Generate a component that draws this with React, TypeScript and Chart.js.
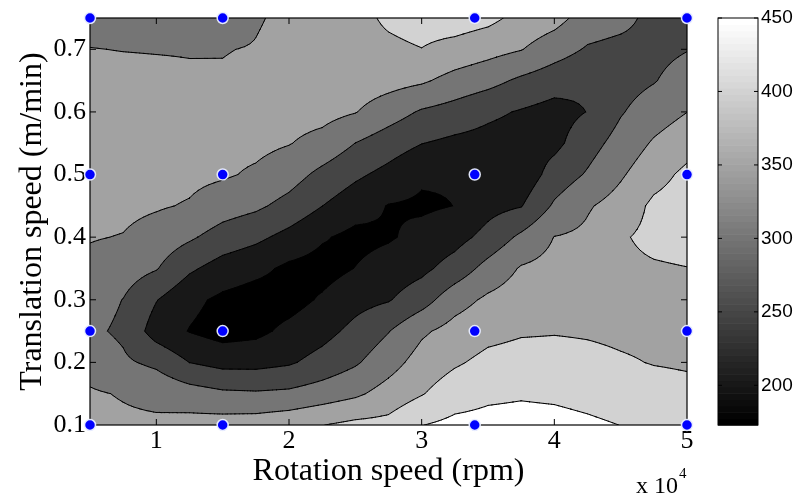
import { useEffect, useRef } from "react";
import { Chart, registerables } from "chart.js";

Chart.register(...registerables);

// Measured points (rotation speed in rpm, translation speed in m/min)
const ROTATION_RPM = [5000, 15000, 34000, 50000];
const TRANSLATION = [0.1, 0.25, 0.5, 0.75];

const GRID_RPM = [
  5000, 7500, 10000, 12500, 15000, 17500, 20000, 22500, 25000, 27500,
  30000, 32500, 35000, 37500, 40000, 42500, 45000, 47500, 50000,
];
const GRID_TRANS = [0.1, 0.15, 0.2, 0.25, 0.3, 0.35, 0.4, 0.45, 0.5, 0.55, 0.6, 0.65, 0.7, 0.75];

// One row per translation speed, one value per grid rpm
const Z_010 = [362, 358, 358, 368, 372, 375, 385, 399, 412, 415, 449, 462, 465, 467, 465, 458, 449.5, 428, 422];
const Z_015 = [355, 347, 338, 322, 309, 306, 310, 324, 341, 370, 397, 427.6, 441, 445, 442, 435.5, 427.5, 418, 412];
const Z_020 = [332, 308, 289, 249.5, 234, 234, 244, 268, 294, 330, 370.5, 393.7, 413, 419, 419, 413, 405, 398, 395];
const Z_025 = [310, 291, 228, 198, 180, 188, 212, 233, 264, 298, 342, 368, 386, 395, 397, 395, 391, 389, 385];
const Z_030 = [322, 299, 252, 212, 190, 178, 182, 206, 233, 246.5, 279, 330, 359, 375, 381.5, 383, 385, 387, 388];
const Z_035 = [337, 323, 303, 258, 229, 213, 190, 182, 201, 221, 238, 271, 317, 354.5, 366, 372, 390, 395, 399];
const Z_040 = [353, 348, 329, 307, 279, 261, 235, 205, 187, 195, 214, 232, 266, 310, 351, 360, 395, 412, 418];
const Z_045 = [366, 362, 355, 346, 323, 309, 284, 250.5, 221, 198, 193, 200.5, 234, 247.5, 307, 345, 370, 410, 423];
const Z_050 = [372, 373, 368, 362, 356, 343, 321, 287, 259, 235.5, 207, 204, 212, 216, 271, 305, 344, 382, 411];
const Z_055 = [372, 375, 372, 367, 362, 362, 352, 334, 299.5, 274, 251, 239, 233, 226, 237, 280, 319, 355.5, 381];
const Z_060 = [368, 370, 368, 364, 361, 364, 368, 366, 352, 323, 294.5, 280, 260, 246, 232, 251, 296, 326, 349.5];
const Z_065 = [362, 362, 360, 356, 355, 362, 370, 373, 376, 368, 357, 333, 316, 291, 272, 258, 280, 297, 324];
const Z_070 = [351, 349, 348, 347.5, 348, 353, 368, 375, 385, 390, 399, 383, 367.5, 352, 322, 295, 285, 285, 298];
const Z_075 = [335, 330, 325, 322, 320, 345, 362, 370, 385, 408, 420, 425, 413, 385, 368, 328, 316, 285, 270];

const Z_GRID = [Z_010, Z_015, Z_020, Z_025, Z_030, Z_035, Z_040, Z_045, Z_050, Z_055, Z_060, Z_065, Z_070, Z_075];

const LEVELS = [200, 250, 300, 350, 400, 450];
const COLOR_MIN = 173;
const COLOR_MAX = 450;

const X_TICKS = [10000, 20000, 30000, 40000, 50000];
const Y_TICKS = [0.1, 0.2, 0.3, 0.4, 0.5, 0.6, 0.7];
const CB_TICKS = [200, 250, 300, 350, 400, 450];

const SERIF = "'Liberation Serif', 'Times New Roman', serif";
const SANS = "'Liberation Sans', Arial, sans-serif";

function grayIndex(v: number) {
  let idx = Math.floor(((v - COLOR_MIN) / (COLOR_MAX - COLOR_MIN)) * 64);
  if (idx < 0) idx = 0;
  if (idx > 63) idx = 63;
  return idx;
}
function grayFromIndex(idx: number) {
  const g = Math.round((idx / 63) * 255);
  return `rgb(${g},${g},${g})`;
}
function grayOf(v: number) {
  return grayFromIndex(grayIndex(v));
}

type P = { x: number; y: number; v: number };

function clipAbove(tri: P[], L: number): P[] {
  const out: P[] = [];
  for (let k = 0; k < tri.length; k++) {
    const a = tri[k];
    const b = tri[(k + 1) % tri.length];
    const ia = a.v >= L;
    const ib = b.v >= L;
    if (ia) out.push(a);
    if (ia !== ib) {
      const t = (L - a.v) / (b.v - a.v);
      out.push({ x: a.x + t * (b.x - a.x), y: a.y + t * (b.y - a.y), v: L });
    }
  }
  return out;
}

function crossings(tri: P[], L: number): P[] {
  const out: P[] = [];
  for (let k = 0; k < 3; k++) {
    const a = tri[k];
    const b = tri[(k + 1) % 3];
    const ia = a.v >= L;
    const ib = b.v >= L;
    if (ia !== ib) {
      const t = (L - a.v) / (b.v - a.v);
      out.push({ x: a.x + t * (b.x - a.x), y: a.y + t * (b.y - a.y), v: L });
    }
  }
  return out;
}

const SUB = 4;

function buildTriangles(xs: any, ys: any): P[][] {
  const tris: P[][] = [];
  for (let j = 0; j < GRID_TRANS.length - 1; j++) {
    for (let i = 0; i < GRID_RPM.length - 1; i++) {
      const x0 = xs.getPixelForValue(GRID_RPM[i]);
      const x1 = xs.getPixelForValue(GRID_RPM[i + 1]);
      const y0 = ys.getPixelForValue(GRID_TRANS[j]);
      const y1 = ys.getPixelForValue(GRID_TRANS[j + 1]);
      const v00 = Z_GRID[j][i];
      const v10 = Z_GRID[j][i + 1];
      const v01 = Z_GRID[j + 1][i];
      const v11 = Z_GRID[j + 1][i + 1];
      const at = (s: number, t: number): P => ({
        x: x0 + s * (x1 - x0),
        y: y0 + t * (y1 - y0),
        v: (1 - s) * (1 - t) * v00 + s * (1 - t) * v10 + s * t * v11 + (1 - s) * t * v01,
      });
      for (let b = 0; b < SUB; b++) {
        for (let a = 0; a < SUB; a++) {
          const s0 = a / SUB;
          const s1 = (a + 1) / SUB;
          const t0 = b / SUB;
          const t1 = (b + 1) / SUB;
          const corners = [at(s0, t0), at(s1, t0), at(s1, t1), at(s0, t1)];
          const c = at((s0 + s1) / 2, (t0 + t1) / 2);
          for (let k = 0; k < 4; k++) tris.push([corners[k], corners[(k + 1) % 4], c]);
        }
      }
    }
  }
  return tris;
}

const contourPlugin = {
  id: "contourFill",
  beforeDatasetsDraw(chart: any) {
    const { ctx, chartArea: a, scales } = chart;
    const xs = scales.x;
    const ys = scales.y;
    const tris = buildTriangles(xs, ys);

    ctx.save();
    ctx.beginPath();
    ctx.rect(a.left, a.top, a.right - a.left, a.bottom - a.top);
    ctx.clip();

    ctx.fillStyle = grayOf(COLOR_MIN);
    ctx.fillRect(a.left, a.top, a.right - a.left, a.bottom - a.top);

    for (const L of LEVELS) {
      ctx.beginPath();
      for (const t of tris) {
        const poly = clipAbove(t, L);
        if (poly.length < 3) continue;
        ctx.moveTo(poly[0].x, poly[0].y);
        for (let k = 1; k < poly.length; k++) ctx.lineTo(poly[k].x, poly[k].y);
        ctx.closePath();
      }
      ctx.fillStyle = grayOf(L);
      ctx.fill();
    }

    ctx.beginPath();
    for (const L of LEVELS) {
      for (const t of tris) {
        const s = crossings(t, L);
        if (s.length === 2) {
          ctx.moveTo(s[0].x, s[0].y);
          ctx.lineTo(s[1].x, s[1].y);
        }
      }
    }
    ctx.strokeStyle = "#000";
    ctx.lineWidth = 1;
    ctx.lineCap = "round";
    ctx.stroke();
    ctx.restore();

    // axes box with inward ticks
    ctx.save();
    ctx.strokeStyle = "#000";
    ctx.lineWidth = 1.2;
    ctx.strokeRect(a.left, a.top, a.right - a.left, a.bottom - a.top);
    ctx.lineWidth = 1;
    ctx.beginPath();
    for (const v of X_TICKS) {
      const px = xs.getPixelForValue(v);
      ctx.moveTo(px, a.bottom);
      ctx.lineTo(px, a.bottom - 6);
      ctx.moveTo(px, a.top);
      ctx.lineTo(px, a.top + 6);
    }
    for (const v of Y_TICKS) {
      const py = ys.getPixelForValue(v);
      ctx.moveTo(a.left, py);
      ctx.lineTo(a.left + 6, py);
      ctx.moveTo(a.right, py);
      ctx.lineTo(a.right - 6, py);
    }
    ctx.stroke();
    ctx.restore();
  },
  afterDraw(chart: any) {
    const { ctx, scales } = chart;
    const cb = scales.cb;
    const left = 718;
    const width = 40;
    ctx.save();
    for (let i = 0; i < 64; i++) {
      const v0 = COLOR_MIN + (i * (COLOR_MAX - COLOR_MIN)) / 64;
      const v1 = COLOR_MIN + ((i + 1) * (COLOR_MAX - COLOR_MIN)) / 64;
      const y0 = cb.getPixelForValue(v1);
      const y1 = cb.getPixelForValue(v0);
      ctx.fillStyle = grayFromIndex(i);
      ctx.fillRect(left, y0, width, y1 - y0 + 0.6);
    }
    const top = cb.getPixelForValue(COLOR_MAX);
    const bottom = cb.getPixelForValue(COLOR_MIN);
    ctx.strokeStyle = "#000";
    ctx.lineWidth = 1;
    ctx.strokeRect(left, top, width, bottom - top);
    ctx.beginPath();
    for (const v of CB_TICKS) {
      const py = cb.getPixelForValue(v);
      ctx.moveTo(left, py);
      ctx.lineTo(left + 4, py);
      ctx.moveTo(left + width, py);
      ctx.lineTo(left + width - 4, py);
    }
    ctx.stroke();

    // exponent label of the x axis
    ctx.fillStyle = "#000";
    ctx.textBaseline = "alphabetic";
    ctx.textAlign = "left";
    ctx.font = `24px ${SERIF}`;
    const base = "x 10";
    ctx.fillText(base, 636, 493);
    const w = ctx.measureText(base).width;
    ctx.font = `15px ${SERIF}`;
    ctx.fillText("4", 636 + w + 1, 478);
    ctx.restore();
  },
};

const noPad = (s: any) => {
  s.paddingTop = 0;
  s.paddingBottom = 0;
  s.paddingLeft = 0;
  s.paddingRight = 0;
};

export default function App() {
  const canvasRef = useRef<HTMLCanvasElement | null>(null);

  useEffect(() => {
    document.body.style.margin = "0";
    const canvas = canvasRef.current;
    if (!canvas) return;

    const points: { x: number; y: number }[] = [];
    for (const t of TRANSLATION) for (const r of ROTATION_RPM) points.push({ x: r, y: t });

    const chart = new Chart(canvas, {
      type: "scatter",
      data: {
        datasets: [
          {
            data: points,
            pointRadius: 5.5,
            pointBackgroundColor: "#0000ff",
            pointBorderColor: "rgba(235,240,255,0.95)",
            pointBorderWidth: 1.5,
            clip: false as any,
          },
        ],
      },
      options: {
        responsive: false,
        animation: false,
        events: [],
        devicePixelRatio: 1,
        layout: { autoPadding: false, padding: { top: 18, left: 0, right: 0, bottom: 0 } },
        plugins: {
          legend: { display: false },
          tooltip: { enabled: false },
        },
        scales: {
          x: {
            type: "linear",
            position: "bottom",
            min: 5000,
            max: 50000,
            grid: { display: false, drawTicks: false },
            border: { display: false },
            afterBuildTicks: (s: any) => {
              s.ticks = X_TICKS.map((v) => ({ value: v }));
            },
            afterFit: (s: any) => {
              s.height = 73;
              noPad(s);
            },
            ticks: {
              callback: (v: any) => String(Number(v) / 10000),
              color: "#000",
              font: { family: SERIF, size: 26 },
              padding: 1,
              maxRotation: 0,
              autoSkip: false,
            },
            title: {
              display: true,
              text: "Rotation speed (rpm)",
              color: "#000",
              font: { family: SERIF, size: 32 },
              padding: { top: 0, bottom: 7 },
            },
          },
          y: {
            type: "linear",
            position: "left",
            min: 0.1,
            max: 0.75,
            grid: { display: false, drawTicks: false },
            border: { display: false },
            afterBuildTicks: (s: any) => {
              s.ticks = Y_TICKS.map((v) => ({ value: v }));
            },
            afterFit: (s: any) => {
              s.width = 90;
              noPad(s);
            },
            ticks: {
              callback: (v: any) => String(v),
              color: "#000",
              font: { family: SERIF, size: 26 },
              padding: 4,
              autoSkip: false,
            },
            title: {
              display: true,
              text: "Translation speed (m/min)",
              color: "#000",
              font: { family: SERIF, size: 32 },
              padding: { top: 13, bottom: 0 },
            },
          },
          cb: {
            type: "linear",
            position: "right",
            min: COLOR_MIN,
            max: COLOR_MAX,
            grid: { display: false, drawTicks: false },
            border: { display: false },
            afterBuildTicks: (s: any) => {
              s.ticks = CB_TICKS.map((v) => ({ value: v }));
            },
            afterFit: (s: any) => {
              s.width = 108;
              noPad(s);
            },
            ticks: {
              color: "#000",
              font: { family: SANS, size: 19 },
              padding: 74,
              autoSkip: false,
            },
          },
        },
      } as any,
      plugins: [contourPlugin],
    });

    return () => chart.destroy();
  }, []);

  return (
    <div style={{ position: "absolute", left: 0, top: 0, width: 795, height: 498 }}>
      <canvas ref={canvasRef} width={795} height={498} style={{ display: "block" }} />
    </div>
  );
}
